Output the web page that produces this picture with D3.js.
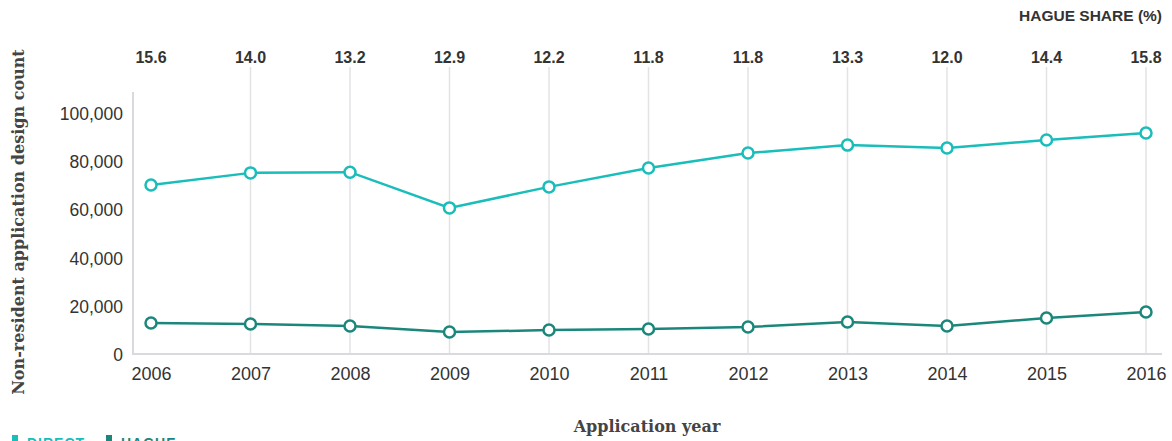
<!DOCTYPE html>
<html>
<head>
<meta charset="utf-8">
<script src="https://cdn.jsdelivr.net/npm/d3@7"></script>
<style>
  body { margin: 0; background: #fff; }
  svg text { font-family: "Liberation Sans", Arial, sans-serif; }
</style>
</head>
<body>
<div id="main"></div>
<script>
// chart data
const years = [2006, 2007, 2008, 2009, 2010, 2011, 2012, 2013, 2014, 2015, 2016];
const direct = [70000, 75000, 75300, 60500, 69200, 77000, 83200, 86500, 85300, 88600, 91500];
const hague = [12800, 12400, 11600, 9100, 9900, 10350, 11200, 13250, 11600, 14900, 17400];
const hagueShare = ['15.6', '14.0', '13.2', '12.9', '12.2', '11.8', '11.8', '13.3', '12.0', '14.4', '15.8'];
const yTicks = [0, 20000, 40000, 60000, 80000, 100000];

const width = 1172, height = 441;
const directColor = '#19bdba', hagueColor = '#1b877b';

let svg = d3.select('#main')
    .append('svg')
        .attr('width', width)
        .attr('height', height);

const x = d3.scalePoint().domain(years).range([151, 1146]);
const y = d3.scaleLinear().domain([0, 100000]).range([354, 112.5]);

// vertical grid lines per year
svg.selectAll('.grid')
    .data(years.slice(1))
    .enter()
    .append('line')
        .attr('x1', d => x(d)).attr('x2', d => x(d))
        .attr('y1', 67).attr('y2', 354)
        .style('stroke', '#e3e3e6')
        .style('stroke-width', 1.5);

// hague share labels on top
svg.selectAll('.share')
    .data(years)
    .enter()
    .append('text')
        .attr('x', d => x(d))
        .attr('y', 63)
        .attr('text-anchor', 'middle')
        .style('font-size', '16px')
        .style('font-weight', 'bold')
        .style('fill', '#333')
        .text((d, i) => hagueShare[i]);

svg.append('text')
    .attr('x', 1162).attr('y', 21)
    .attr('text-anchor', 'end')
    .style('font-size', '15.5px')
    .style('font-weight', 'bold')
    .style('fill', '#333')
    .text('HAGUE SHARE (%)');

// axis lines
svg.append('line')
    .attr('x1', 133).attr('x2', 133).attr('y1', 92).attr('y2', 355)
    .style('stroke', '#d9d9de').style('stroke-width', 2);
svg.append('line')
    .attr('x1', 132).attr('x2', 1162).attr('y1', 354).attr('y2', 354)
    .style('stroke', '#d9d9de').style('stroke-width', 2);

// y axis ticks
const yAxis = svg.append('g')
    .attr('transform', 'translate(123,1)')
    .call(d3.axisLeft(y).tickValues(yTicks).tickSize(0).tickPadding(0).tickFormat(d3.format(',')));
yAxis.select('.domain').remove();
yAxis.selectAll('text')
    .style('font-size', '17.5px')
    .style('fill', '#333')
    .style('font-family', '"Liberation Sans", Arial, sans-serif');

// x axis ticks
const xAxis = svg.append('g')
    .attr('transform', 'translate(0,367)')
    .call(d3.axisBottom(x).tickSize(0).tickPadding(0).tickFormat(d3.format('d')));
xAxis.select('.domain').remove();
xAxis.selectAll('text')
    .style('font-size', '18px')
    .style('fill', '#333')
    .style('font-family', '"Liberation Sans", Arial, sans-serif');

// axis titles
svg.append('text')
    .attr('transform', 'translate(24,222) rotate(-90)')
    .attr('text-anchor', 'middle')
    .style('font-family', '"DejaVu Serif", Georgia, serif')
    .style('font-size', '16px')
    .style('font-weight', 'bold')
    .style('fill', '#444')
    .text('Non-resident application design count');

svg.append('text')
    .attr('x', 647).attr('y', 432)
    .attr('text-anchor', 'middle')
    .style('font-family', '"DejaVu Serif", Georgia, serif')
    .style('font-size', '16px')
    .style('font-weight', 'bold')
    .style('fill', '#444')
    .text('Application year');

// series lines and markers
const line = d3.line().x((d, i) => x(years[i])).y(d => y(d));
const series = [
    { name: 'DIRECT', values: direct, color: directColor },
    { name: 'HAGUE', values: hague, color: hagueColor }
];

series.forEach(s => {
    svg.append('path')
        .datum(s.values)
        .attr('d', line)
        .style('fill', 'none')
        .style('stroke', s.color)
        .style('stroke-width', 2.5);
    svg.selectAll('.pt-' + s.name)
        .data(s.values)
        .enter()
        .append('circle')
            .attr('cx', (d, i) => x(years[i]))
            .attr('cy', d => y(d))
            .attr('r', 5.5)
            .style('fill', '#fff')
            .style('stroke', s.color)
            .style('stroke-width', 2.5);
});

// legend (cut off at the bottom)
const legendX = [12, 106];
series.forEach((s, i) => {
    svg.append('rect')
        .attr('x', legendX[i]).attr('y', 435)
        .attr('width', 6).attr('height', 10)
        .style('fill', s.color);
    svg.append('text')
        .attr('x', legendX[i] + 15).attr('y', 448)
        .style('font-size', '14px')
        .style('font-weight', 'bold')
        .style('letter-spacing', '1px')
        .style('fill', s.color)
        .text(s.name);
});
</script>
</body>
</html>
